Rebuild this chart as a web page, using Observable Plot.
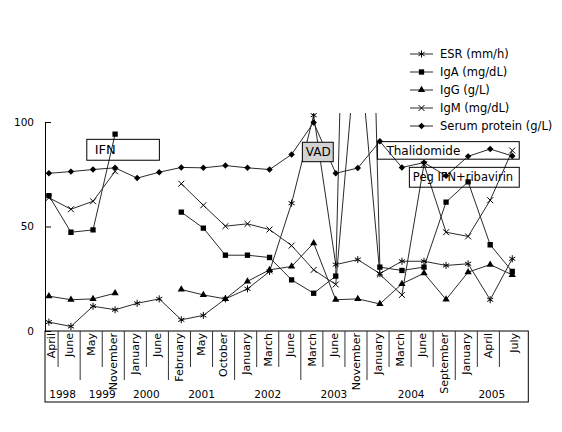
<!DOCTYPE html>
<html><head><meta charset="utf-8">
<script src="https://cdn.jsdelivr.net/npm/d3@7"></script>
<script src="https://cdn.jsdelivr.net/npm/@observablehq/plot@0.6"></script>
<style>
html,body{margin:0;padding:0;background:#fff;}
svg{display:block;}
</style>
</head><body><div id="chart"></div>
<script>
// ---- data ----
const months = ["April","June","May","November","January","June","February","May","October","January","March","June","March","June","November","January","March","June","September","January","April","July"];
const years  = ["1998","1998","1999","1999","2000","2000","2001","2001","2001","2002","2002","2002","2003","2003","2003","2004","2004","2004","2004","2005","2005","2005"];
const esr    = [4.5, 2.4, 12.1, 10.4, 13.5, 15.6, 5.6, 7.7, 15.6, 20.4, 28.7, 61.4, 103.5, 32, 34.4, 27.7, 33.6, 33.6, 31.6, 32.4, 15.2, 34.8];
const iga    = [65, 47.5, 48.6, 94.4, null, null, 57.1, 49.5, 36.5, 36.5, 35.4, 24.7, 18.3, 26.5, 450, 30.8, 29.2, 30.8, 61.9, 71.6, 41.5, 28.7];
const igg    = [16.9, 15.2, 15.6, 18.3, null, null, 20.1, 17.5, 15.6, 24, 29.5, 31.1, 42.3, 15.2, 15.6, 13.2, 22.8, 27.9, 15.3, 28.4, 32, 27.1];
const igm    = [64, 58.5, 62.3, 76.6, null, null, 70.7, 60.4, 50.4, 51.5, 48.8, 41.1, 29.5, 22.5, 145, 27.3, 17.5, 80, 47.5, 45.5, 62.8, 86.6];
const serum  = [75.7, 76.5, 77.5, 78.3, 73.4, 76.2, 78.5, 78.3, 79.4, 78.3, 77.5, 84.7, 100, 75.7, 78.2, 91, 78.5, 80.8, 74.5, 83.8, 87.3, 84];
const seriesNames = ["ESR (mm/h)","IgA (mg/dL)","IgG (g/L)","IgM (mg/dL)","Serum protein (g/L)"];
const yTicks = [0, 50, 100];
const annotationLabels = ["IFN","VAD","Thalidomide","Peg IFN+ribavirin"];

(function () {
// ---- styling / layout ----
const FONT = "DejaVu Sans, Verdana, sans-serif";
const W = 562, H = 432;
const seriesValues = [esr, iga, igg, igm, serum];
const seriesStyle = [
  {symbol: "asterisk", r: 3.3, fill: "none", stroke: "#000"},
  {symbol: "square",   r: 3.0, fill: "#000", stroke: "none"},
  {symbol: "triangle", r: 2.7, fill: "#000", stroke: "none"},
  {symbol: "times",    r: 2.8, fill: "none", stroke: "#000"},
  {symbol: "diamond2", r: 2.9, fill: "#000", stroke: "none"}
];
// annotation boxes in data space (category index, value)
const annLayout = [
  {x1: 1.74, x2: 5.03, y1: 81.7, y2: 91.7, fill: "none", fontSize: 13, pad: 7.5, anchor: "start"},
  {x1: 11.51, x2: 12.91, y1: 81.0, y2: 90.3, fill: "#d3d3d3", fontSize: 12, pad: 0, anchor: "middle"},
  {x1: 14.91, x2: 21.34, y1: 82.2, y2: 90.6, fill: "none", fontSize: 12, pad: 8.5, anchor: "start"},
  {x1: 16.36, x2: 21.34, y1: 68.8, y2: 78.3, fill: "none", fontSize: 11.5, pad: 3, anchor: "start"}
];
const annotations = annotationLabels.map((t, k) => ({text: t, ...annLayout[k]}));

const xDomain = [-0.154, 21.75];
const marks = [];
marks.push(Plot.ruleX([xDomain[0]], {y1: 0, y2: 100, stroke: "#000", strokeWidth: 1}));
marks.push(Plot.axisY({ticks: yTicks, tickSize: -6, tickPadding: 17.5, anchor: "left", fontSize: 10.5, stroke: "#000"}));
seriesValues.forEach((vals) => {
  const rows = vals.map((v, i) => ({i, v}));
  marks.push(Plot.line(rows, {x: "i", y: "v", stroke: "#2a2a2a", strokeWidth: 1, clip: true}));
});
seriesValues.forEach((vals, s) => {
  const rows = vals.map((v, i) => ({i, v})).filter(d => d.v != null);
  const st = seriesStyle[s];
  marks.push(Plot.dot(rows, {x: "i", y: "v", symbol: st.symbol, r: st.r, fill: st.fill, stroke: st.stroke, strokeWidth: 1, clip: true}));
});
marks.push(Plot.rect(annotations, {x1: "x1", x2: "x2", y1: "y1", y2: "y2", fill: d => d.fill, stroke: "#000", strokeWidth: 1}));
annotations.forEach(a => {
  marks.push(Plot.text([a], {
    x: a.anchor === "middle" ? (d => (d.x1 + d.x2) / 2) : "x1",
    y: d => (d.y1 + d.y2) / 2,
    text: "text", dx: a.pad, textAnchor: a.anchor, lineAnchor: "middle",
    fontSize: a.fontSize, fill: "#000", fontFamily: FONT
  }));
});

const plot = Plot.plot({
  width: W, height: H,
  marginLeft: 45, marginRight: 33.7, marginTop: 113, marginBottom: 101,
  style: {fontFamily: FONT, fontSize: "10px", background: "#fff", color: "#000", overflow: "visible"},
  x: {type: "linear", domain: xDomain, axis: null},
  y: {domain: [0, 104.3], axis: null},
  marks
});
document.getElementById("chart").appendChild(plot);

// ---- category axis table & legend, positioned through Plot's scales ----
const xs = plot.scale("x").apply, ys = plot.scale("y").apply;
const svg = d3.select(plot);
const left = xs(xDomain[0]), right = xs(xDomain[1]);
const tTop = ys(0), tBottom = 402;
const g = svg.append("g").attr("font-family", FONT).attr("fill", "#000");
g.append("rect").attr("x", left).attr("y", tTop).attr("width", right - left).attr("height", tBottom - tTop)
  .attr("fill", "none").attr("stroke", "#000").attr("stroke-width", 1);
const bounds = [left];
for (let k = 1; k < months.length; k++) bounds.push(xs(k - 0.56));
bounds.push(right);
for (let k = 1; k < months.length; k++) {
  const long = years[k] !== years[k - 1];
  g.append("line").attr("x1", bounds[k]).attr("x2", bounds[k]).attr("y1", tTop).attr("y2", long ? 380 : 367)
    .attr("stroke", "#333").attr("stroke-width", 1);
}
months.forEach((m, i) => {
  const cx = (bounds[i] + bounds[i + 1]) / 2;
  g.append("text").attr("transform", `translate(${cx},${tTop + 2}) rotate(-90)`)
    .attr("text-anchor", "end").attr("dy", "0.35em").attr("font-size", 11).text(m);
});
const uniqYears = [...new Set(years)];
uniqYears.forEach(yr => {
  const first = years.indexOf(yr), last = years.lastIndexOf(yr);
  const cx = (bounds[first] + bounds[last + 1]) / 2;
  g.append("text").attr("x", cx).attr("y", 397.5).attr("text-anchor", "middle").attr("font-size", 10.5).text(yr);
});
// legend
const lg = svg.append("g").attr("font-family", FONT);
const symMap = {asterisk: d3.symbolAsterisk, square: d3.symbolSquare, triangle: d3.symbolTriangle, times: d3.symbolTimes, diamond2: d3.symbolDiamond2};
seriesNames.forEach((name, s) => {
  const y = 54 + 18 * s;
  const st = seriesStyle[s];
  lg.append("line").attr("x1", 410).attr("x2", 433).attr("y1", y).attr("y2", y).attr("stroke", "#2a2a2a");
  lg.append("path").attr("transform", `translate(421.5,${y})`)
    .attr("d", d3.symbol(symMap[st.symbol], st.r * st.r * Math.PI)())
    .attr("fill", st.fill).attr("stroke", st.stroke).attr("stroke-width", 1);
  lg.append("text").attr("x", 440).attr("y", y).attr("dy", "0.35em").attr("font-size", 11.5)
    .attr("text-anchor", "start").attr("fill", "#000").text(name);
});
})();
</script>
</body></html>
